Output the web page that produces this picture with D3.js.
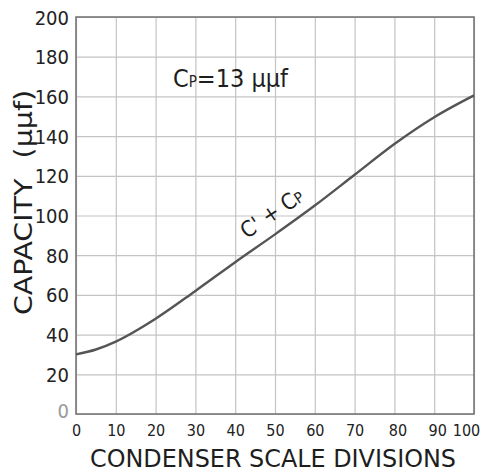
<!DOCTYPE html>
<html>
<head>
<meta charset="utf-8">
<script src="https://cdn.jsdelivr.net/npm/d3@7"></script>
<style>
  body { margin: 0; background: #fff; }
  svg { display: block; }
  .grid line { stroke: #c4c4c4; stroke-width: 1.2; }
  .grid .domain { display: none; }
  .tick-labels text { fill: #222; font-family: "DejaVu Sans Condensed", "DejaVu Sans", sans-serif; font-stretch: condensed; }
  .tick-labels .domain, .tick-labels line { display: none; }
  .lbl { fill: #1e1e1e; font-family: "DejaVu Sans Condensed", "DejaVu Sans", sans-serif; font-stretch: condensed; }
</style>
</head>
<body>
<svg id="chart"></svg>
<script>
// condenser scale divisions vs capacity (C' + Cp)
const divisions = [0, 5, 10, 20, 30, 40, 50, 60, 70, 80, 90, 100];
const capacity  = [30, 32.5, 36.5, 48, 62, 76.5, 90.5, 105, 120.5, 136, 149.5, 160.5];
const xTicks = [0, 10, 20, 30, 40, 50, 60, 70, 80, 90, 100];
const yTicks = [0, 20, 40, 60, 80, 100, 120, 140, 160, 180, 200];

const config = {
  containerWidth: 486,
  containerHeight: 474,
  margin: {top: 17, right: 12, bottom: 60, left: 76}
};

const width = config.containerWidth - config.margin.left - config.margin.right;
const height = config.containerHeight - config.margin.top - config.margin.bottom;

const svg = d3.select('#chart')
    .attr('width', config.containerWidth)
    .attr('height', config.containerHeight);

const chart = svg.append('g')
    .attr('transform', `translate(${config.margin.left},${config.margin.top})`);

const xScale = d3.scaleLinear().domain([0, 100]).range([0, width]);
const yScale = d3.scaleLinear().domain([0, 200]).range([height, 0]);

// grid lines
chart.append('g')
    .attr('class', 'grid')
    .attr('transform', `translate(0,${height})`)
    .call(d3.axisBottom(xScale).tickValues(xTicks).tickSize(-height).tickFormat(''));

chart.append('g')
    .attr('class', 'grid')
    .call(d3.axisLeft(yScale).tickValues(yTicks).tickSize(-width).tickFormat(''));

// frame
chart.append('rect')
    .attr('width', width)
    .attr('height', height)
    .attr('fill', 'none')
    .attr('stroke', '#777')
    .attr('stroke-width', 1.6);

// tick labels
const xLab = chart.append('g')
    .attr('class', 'tick-labels')
    .attr('transform', `translate(0,${height})`)
    .call(d3.axisBottom(xScale).tickValues(xTicks).tickSize(0).tickPadding(11));
xLab.selectAll('text')
    .style('font-size', '16px')
    .attr('dx', d => d === 100 ? -8 : (d >= 80 ? 3 : 0));

const yLab = chart.append('g')
    .attr('class', 'tick-labels')
    .call(d3.axisLeft(yScale).tickValues(yTicks).tickSize(0).tickPadding(7));
yLab.selectAll('text')
    .style('font-size', '20px')
    .attr('dy', d => d === 0 ? '0.15em' : '0.35em')
    .style('fill', d => d === 0 ? '#999' : '#222');

// the curve
const pts = divisions.map((d, i) => [d, capacity[i]]);
const line = d3.line()
    .x(d => xScale(d[0]))
    .y(d => yScale(d[1]))
    .curve(d3.curveMonotoneX);

chart.append('path')
    .datum(pts)
    .attr('d', line)
    .attr('fill', 'none')
    .attr('stroke', '#555')
    .attr('stroke-width', 2.4);

// axis titles
svg.append('text')
    .attr('class', 'lbl')
    .attr('x', 90)
    .attr('y', 467)
    .attr('textLength', 366)
    .attr('lengthAdjust', 'spacingAndGlyphs')
    .style('font-size', '24px')
    .text('CONDENSER SCALE DIVISIONS');

const yTitle = svg.append('text')
    .attr('class', 'lbl')
    .attr('transform', 'translate(32,315) rotate(-90)')
    .attr('textLength', 225)
    .attr('lengthAdjust', 'spacingAndGlyphs')
    .style('font-size', '25px');
yTitle.append('tspan').text('CAPACITY');
yTitle.append('tspan').attr('dx', 16).text('(μμf)');

// annotations
const note = svg.append('text')
    .attr('class', 'lbl')
    .attr('x', 173)
    .attr('y', 87)
    .style('font-size', '25px');
note.append('tspan').text('C');
note.append('tspan').style('font-size', '15px').text('P');
note.append('tspan').text('=13 μμf');

const cx = xScale(50) + config.margin.left + 1;
const cy = yScale(97) + config.margin.top - 2;
svg.append('text')
    .attr('class', 'lbl')
    .attr('transform', `translate(${cx},${cy}) rotate(-34)`)
    .attr('text-anchor', 'middle')
    .style('font-size', '22px')
    .text("C' + C")
    .append('tspan')
    .style('font-size', '15px')
    .text('P');
</script>
</body>
</html>
